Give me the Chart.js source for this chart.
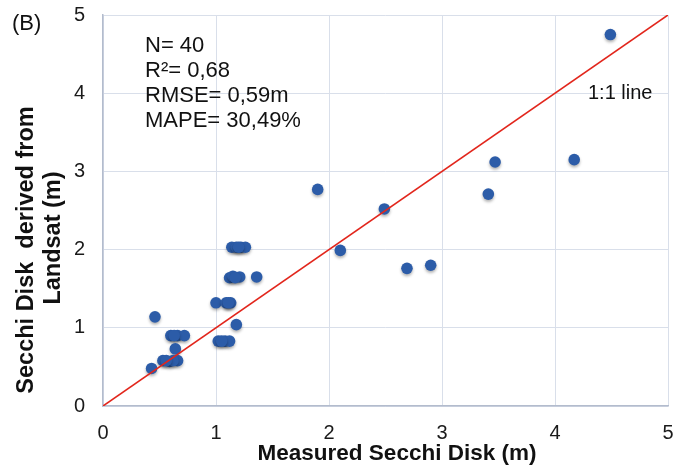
<!DOCTYPE html>
<html>
<head>
<meta charset="utf-8">
<script src="https://cdn.jsdelivr.net/npm/chart.js@4"></script>
<style>
  html, body { margin: 0; padding: 0; background: #ffffff; }
  #wrap { width: 675px; height: 466px; position: relative; }
</style>
</head>
<body>
<div id="wrap"><canvas id="secchiChart" width="675" height="466"></canvas></div>
<script>
// Secchi disk: measured vs derived from Landsat

const measured = [4.49, 4.17, 3.47, 3.41, 1.90, 2.49, 2.10, 2.69, 2.90,
    1.14, 1.18, 1.22, 1.26, 1.20, 1.12, 1.15, 1.21, 1.17, 1.36,
    1.00, 1.09, 1.13, 1.11, 0.46, 1.18,
    0.60, 0.66, 0.72, 0.63, 1.02, 1.08, 1.12, 1.05, 0.64,
    0.53, 0.59, 0.66, 0.62, 0.56, 0.43];
const derived = [4.75, 3.15, 3.12, 2.71, 2.77, 2.52, 1.99, 1.76, 1.80,
    2.03, 2.03, 2.03, 2.03, 2.03, 1.64, 1.66, 1.65, 1.64, 1.65,
    1.32, 1.32, 1.32, 1.32, 1.14, 1.04,
    0.90, 0.90, 0.90, 0.90, 0.83, 0.83, 0.83, 0.83, 0.73,
    0.58, 0.57, 0.58, 0.58, 0.58, 0.48];
const oneToOne = [0, 5];
const axisTicks = [0, 1, 2, 3, 4, 5];
const statsText = ['N= 40', 'R\u00B2= 0,68', 'RMSE= 0,59m', 'MAPE= 30,49%'];

const FONT = '"Liberation Sans", Arial, sans-serif';

// titles and text box drawn on top of the chart
const labelsPlugin = {
    id: 'labels',
    afterDraw(chart) {
        const ctx = chart.ctx;
        ctx.save();
        ctx.fillStyle = '#111111';
        ctx.textBaseline = 'alphabetic';
        ctx.textAlign = 'left';

        ctx.font = '22px ' + FONT;
        ctx.fillText('(B)', 12, 30);
        statsText.forEach((t, i) => {
            ctx.fillText(t, 145, 52 + i * 25);
        });

        ctx.font = '20px ' + FONT;
        ctx.fillText('1:1 line', 588, 99);

        // x axis title
        ctx.font = 'bold 22.5px ' + FONT;
        ctx.textAlign = 'center';
        ctx.fillText('Measured Secchi Disk (m)', 397, 460);

        // y axis title, two lines
        ctx.font = 'bold 23.5px ' + FONT;
        ctx.rotate(-Math.PI / 2);
        ctx.fillText('Secchi Disk  derived from', -250, 33);
        ctx.fillText('Landsat (m)', -238, 60);
        ctx.restore();
    }
};

const dotShadow = {
    id: 'dotShadow',
    beforeDatasetDraw(chart, args) {
        if (args.index !== 1) return;
        chart.ctx.save();
        chart.ctx.shadowColor = 'rgba(0,0,0,0.3)';
        chart.ctx.shadowBlur = 3;
        chart.ctx.shadowOffsetY = 2;
    },
    afterDatasetDraw(chart, args) {
        if (args.index !== 1) return;
        chart.ctx.restore();
    }
};

const noPad = (s) => {
    s.paddingLeft = 0;
    s.paddingRight = 0;
    s.paddingTop = 0;
    s.paddingBottom = 0;
};

const gridColor = '#d9dfea';
const axisColor = '#b3bccd';
const tickStyle = { color: '#1a1a1a', font: { family: FONT, size: 20 } };

new Chart(document.getElementById('secchiChart'), {
    type: 'scatter',
    data: {
        datasets: [
            {
                label: '1:1 line',
                data: oneToOne.map((v) => ({ x: v, y: v })),
                showLine: true,
                borderColor: '#e2261c',
                borderWidth: 1.6,
                pointRadius: 0,
                order: 0
            },
            {
                label: 'Secchi',
                data: measured.map((m, i) => ({ x: m, y: derived[i] })),
                backgroundColor: '#2c5ca8',
                borderColor: '#2c5ca8',
                borderWidth: 0,
                pointRadius: 5.8,
                order: 1
            }
        ]
    },
    options: {
        responsive: false,
        animation: false,
        devicePixelRatio: 1,
        layout: { padding: { top: 15, right: 7, left: 0, bottom: 0 } },
        plugins: {
            legend: { display: false },
            tooltip: { enabled: false }
        },
        scales: {
            x: {
                type: 'linear',
                min: 0,
                max: 5,
                afterBuildTicks: (s) => { s.ticks = axisTicks.map((v) => ({ value: v })); },
                afterFit: (s) => { s.height = 60; noPad(s); },
                grid: { color: gridColor, drawTicks: false },
                border: { color: axisColor, width: 1.5 },
                ticks: { ...tickStyle, padding: 15 }
            },
            y: {
                type: 'linear',
                min: 0,
                max: 5,
                afterBuildTicks: (s) => { s.ticks = axisTicks.map((v) => ({ value: v })); },
                afterFit: (s) => { s.width = 103; noPad(s); },
                grid: { color: gridColor, drawTicks: false },
                border: { color: axisColor, width: 1.5 },
                ticks: { ...tickStyle, padding: 18 }
            }
        }
    },
    plugins: [labelsPlugin, dotShadow]
});
</script>
</body>
</html>
